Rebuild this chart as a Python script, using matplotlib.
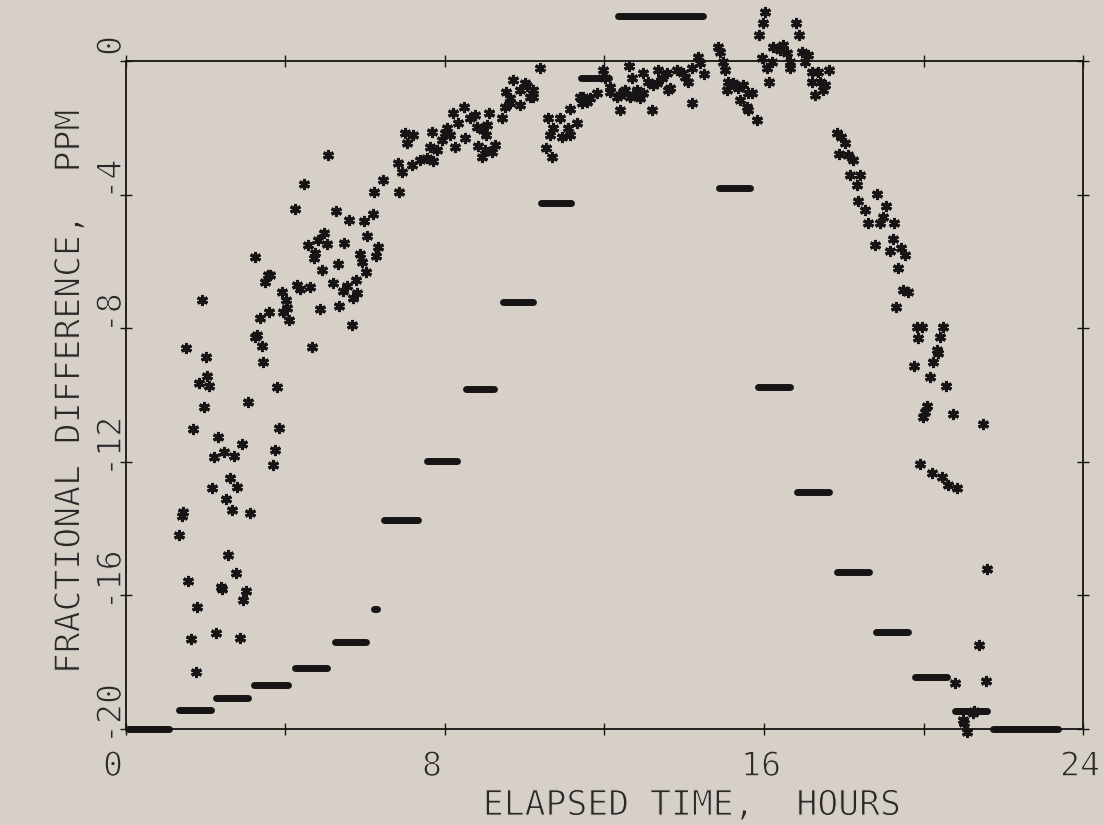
import numpy as np
import matplotlib.pyplot as plt
import matplotlib.patheffects as pe
from matplotlib.transforms import ScaledTranslation

# step levels (model) : start, end in hours, level in ppm
seg_start = [0.04, 1.34, 2.25, 3.22, 4.25, 5.23, 6.21, 6.48, 7.54, 8.52, 9.45,
             10.42, 11.40, 12.33, 14.86, 15.84, 16.82, 17.82, 18.80, 19.78, 20.78, 21.73]
seg_end = [1.09, 2.14, 3.07, 4.07, 5.05, 6.03, 6.30, 7.33, 8.29, 9.24, 10.21,
           11.17, 12.12, 14.48, 15.66, 16.66, 17.64, 18.64, 19.60, 20.60, 21.58, 23.38]
seg_level = [-20.0, -19.43, -19.07, -18.68, -18.17, -17.40, -16.41, -13.74, -11.98, -9.82, -7.22,
             -4.25, -0.50, 1.35, -3.80, -9.76, -12.90, -15.30, -17.10, -18.44, -19.46, -20.0]

# measured points
hours = [1.33, 1.40, 1.43, 1.50, 1.55, 1.63, 1.68, 1.76, 1.78, 1.83, 1.91, 1.96, 2.01, 2.03, 2.08,
         2.16, 2.21, 2.26, 2.31, 2.38, 2.41, 2.46, 2.51, 2.56, 2.61, 2.66, 2.71, 2.76, 2.78, 2.86,
         2.91, 2.93, 3.01, 3.06, 3.11, 3.24, 3.23, 3.29, 3.36, 3.41, 3.44, 3.49, 3.56, 3.61, 3.59,
         3.69, 3.74, 3.79, 3.84, 3.91, 3.94, 4.01, 4.04, 4.09, 4.24, 4.29, 4.36, 4.46, 4.56, 4.61,
         4.66, 4.71, 4.74, 4.81, 4.87, 4.92, 4.97, 5.04, 5.07, 5.19, 5.27, 5.32, 5.34, 5.44, 5.47,
         5.54, 5.59, 5.67, 5.69, 5.77, 5.79, 5.87, 5.92, 5.97, 6.02, 6.04, 6.19, 6.22, 6.27, 6.32,
         6.45, 6.82, 6.85, 6.92, 7.00, 7.05, 7.17, 7.20, 7.37, 7.55, 7.62, 7.67, 7.70, 7.80, 7.92,
         8.00, 8.05, 8.13, 8.20, 8.25, 8.33, 8.48, 8.50, 8.63, 8.75, 8.80, 8.83, 8.93, 8.95, 9.00,
         9.03, 9.05, 9.10, 9.18, 9.25, 9.43, 9.50, 9.53, 9.63, 9.63, 9.71, 9.88, 9.88, 10.01, 10.06,
         10.13, 10.21, 10.21, 10.38, 10.53, 10.58, 10.63, 10.68, 10.71, 10.88, 10.93, 11.08, 11.13, 11.13, 11.31,
         11.39, 11.46, 11.44, 11.56, 11.64, 11.81, 11.96, 12.01, 12.14, 12.14, 12.31, 12.39, 12.39, 12.46, 12.51,
         12.61, 12.64, 12.69, 12.71, 12.81, 12.89, 12.97, 12.97, 13.09, 13.19, 13.22, 13.32, 13.34, 13.44, 13.57,
         13.59, 13.64, 13.82, 13.97, 14.02, 14.09, 14.19, 14.19, 14.34, 14.39, 14.50, 14.85, 14.90, 14.97, 15.02,
         15.07, 15.09, 15.22, 15.35, 15.40, 15.47, 15.57, 15.60, 15.60, 15.70, 15.82, 15.87, 15.95, 15.97, 16.02,
         16.08, 16.13, 16.20, 16.23, 16.40, 16.48, 16.58, 16.65, 16.65, 16.80, 16.88, 16.95, 17.03, 17.10, 17.20,
         17.20, 17.28, 17.35, 17.40, 17.48, 17.53, 17.63, 17.83, 17.93, 18.03, 17.88, 18.11, 18.23, 18.16, 18.41,
         18.33, 18.36, 18.53, 18.61, 18.83, 18.91, 18.98, 19.06, 19.26, 19.24, 18.78, 19.16, 19.44, 19.54, 19.36,
         19.49, 19.61, 19.31, 19.84, 19.96, 19.86, 20.49, 20.41, 20.34, 20.36, 20.24, 19.76, 20.16, 20.56, 20.09,
         20.04, 19.99, 20.74, 21.49, 19.91, 20.21, 20.46, 20.61, 20.84, 21.59, 21.39, 21.57, 20.79, 21.27, 21.24,
         20.99, 21.02, 21.09]
ppm = [-14.19, -13.62, -13.50, -8.59, -15.57, -17.31, -11.02, -18.29, -16.35, -9.64, -7.16, -10.36, -8.86, -9.43, -9.73,
       -12.78, -11.86, -17.13, -11.26, -15.75, -15.81, -11.71, -13.11, -14.79, -12.49, -13.44, -11.83, -15.33, -12.75, -17.28,
       -11.47, -16.14, -15.87, -10.21, -13.53, -5.87, -8.26, -8.20, -7.69, -8.53, -9.01, -6.62, -6.41, -6.41, -7.51,
       -12.10, -11.65, -9.76, -10.99, -6.92, -7.51, -7.16, -7.40, -7.75, -4.43, -6.71, -6.83, -3.68, -5.51, -6.77,
       -8.56, -5.90, -5.75, -5.36, -7.43, -6.26, -5.15, -5.48, -2.81, -6.65, -4.49, -6.08, -7.34, -6.89, -5.45,
       -6.74, -4.76, -7.90, -7.10, -6.56, -6.95, -5.78, -6.02, -4.79, -6.32, -5.24, -4.58, -3.92, -5.84, -5.57,
       -3.56, -3.05, -3.92, -3.32, -2.16, -2.46, -3.11, -2.22, -2.96, -2.90, -2.57, -2.13, -2.99, -2.66, -2.37,
       -2.16, -2.01, -2.22, -1.56, -2.57, -1.86, -1.38, -2.31, -1.71, -1.62, -1.98, -2.54, -2.87, -2.07, -2.66,
       -2.22, -1.92, -1.56, -2.72, -2.51, -1.71, -1.38, -0.93, -1.11, -1.26, -0.57, -0.87, -1.32, -0.66, -0.75,
       -1.08, -0.87, -1.08, -0.21, -2.60, -1.71, -2.22, -2.87, -2.01, -1.71, -2.28, -2.01, -1.44, -2.22, -1.86,
       -1.08, -1.08, -1.26, -1.23, -1.11, -0.96, -0.27, -0.51, -0.78, -0.93, -1.08, -1.02, -1.47, -0.93, -0.87,
       -0.15, -1.08, -0.51, -1.02, -0.87, -1.11, -0.36, -0.96, -0.63, -1.47, -0.72, -0.66, -0.27, -0.51, -0.36,
       -0.87, -0.81, -0.27, -0.36, -0.48, -0.63, -0.21, -1.26, 0.12, -0.06, -0.39, 0.42, 0.27, -0.03, -0.27,
       -0.87, -0.63, -0.66, -0.81, -1.17, -0.72, -1.38, -0.96, -1.47, -0.96, -1.77, 0.78, 0.09, 1.14, 1.47,
       -0.21, -0.63, -0.03, 0.42, 0.33, 0.48, 0.24, -0.03, -0.21, 1.14, 0.78, 0.27, -0.03, 0.18, -0.33,
       -0.63, -1.02, -0.33, -0.63, -0.87, -0.72, -0.27, -2.16, -2.28, -2.46, -2.78, -2.81, -2.96, -3.41, -3.41,
       -3.71, -4.19, -4.46, -4.85, -3.98, -4.85, -4.67, -4.34, -4.85, -5.33, -5.51, -5.69, -5.60, -5.81, -6.20,
       -6.86, -6.92, -7.37, -7.96, -7.96, -8.29, -7.96, -8.26, -8.65, -8.74, -9.01, -9.13, -9.46, -9.73, -10.33,
       -10.51, -10.66, -10.57, -10.87, -12.07, -12.34, -12.46, -12.69, -12.78, -15.21, -17.49, -18.56, -18.62, -19.46, -19.52,
       -19.73, -19.82, -20.09]

x_ticks = [0, 4, 8, 12, 16, 20, 24]
x_labels = ['0', '', '8', '', '16', '', '24']
y_ticks = [-20, -16, -12, -8, -4, 0]
y_labels = ['-20', '-16', '-12', '-8', '-4', '0']

bg = '#d6d0c9'
ink = '#161414'
txt = '#2a2828'
plt.rcParams['font.family'] = ['DejaVu Sans Mono']
thin = [pe.Stroke(linewidth=0.8, foreground=bg)]  # erodes glyphs -> plotter-like thin strokes

fig = plt.figure(figsize=(11.04, 8.25), dpi=100, facecolor=bg)
ax = fig.add_axes([0.1141, 0.1164, 0.8669, 0.8097], facecolor=bg)

ax.hlines(seg_level, seg_start, seg_end, colors=ink, linewidth=5,
          capstyle='round', clip_on=False, zorder=3)
ax.plot(hours, ppm, linestyle='none', marker=(6, 2, 0), markersize=8,
        markeredgewidth=2.2, color=ink, clip_on=False, zorder=4)

ax.set_xlim(0, 24)
ax.set_ylim(-20, 0)
for s in ax.spines.values():
    s.set_linewidth(1.3)
    s.set_color(ink)

ax.set_xticks(x_ticks)
ax.set_xticklabels(x_labels, ha='left')
ax.set_yticks(y_ticks)
ax.set_yticklabels(y_labels, rotation=90, va='center')
ax.tick_params(direction='inout', length=8, width=1, colors=ink,
               top=True, right=True, labelsize=24, labelcolor=txt)
ax.tick_params(axis='x', pad=11)
ax.tick_params(axis='y', pad=4)

xshift = ScaledTranslation(-0.23, 0, fig.dpi_scale_trans)
for lab in ax.get_xticklabels():
    lab.set_transform(lab.get_transform() + xshift)
    lab.set_path_effects(thin)
yshift = ScaledTranslation(0.13, 0.15, fig.dpi_scale_trans)
for lab in ax.get_yticklabels():
    lab.set_transform(lab.get_transform() + yshift)
    lab.set_path_effects(thin)

ax.text(0.591, -0.114, 'ELAPSED TIME,  HOURS', transform=ax.transAxes,
        ha='center', va='center', fontsize=25, color=txt, path_effects=thin)
ax.text(-0.059, 0.504, 'FRACTIONAL DIFFERENCE,  PPM', transform=ax.transAxes,
        ha='center', va='center', rotation=90, fontsize=25, color=txt,
        path_effects=thin)

plt.savefig('out.png', dpi=100, facecolor=bg)
